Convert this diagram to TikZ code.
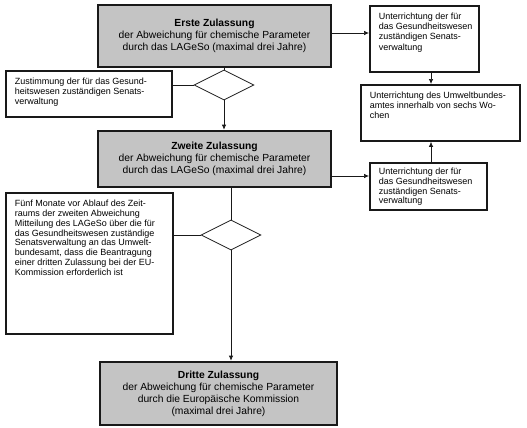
\documentclass[tikz,border=0pt]{standalone}
\usepackage{fontspec}
\setmainfont{Liberation Sans}
\usetikzlibrary{arrows.meta,shapes.geometric}
\newcommand\boxtxt[5][6.5pt]{\parbox[c][#3][t]{#2}{\fontsize{9}{10.2}\selectfont\renewcommand\arraystretch{#4}\parindent=0pt\vspace*{#1}\hspace*{9pt}\begin{tabular}[t]{@{}l@{}}#5\end{tabular}\par}}
\tikzset{
  mainbox/.style={draw=black!90, line width=2.6pt, fill=black!23, inner sep=0pt, align=center,
    font=\fontsize{10.3}{12}\selectfont},
  smallbox/.style={draw=black!90, line width=1.8pt, fill=white, inner sep=0pt, anchor=north west},
  decision/.style={diamond, draw=black!90, line width=0.8pt, minimum width=60pt, minimum height=30pt, inner sep=0pt},
  conn/.style={draw=black!90, line width=0.7pt},
  arr/.style={conn, -{Latex[length=5pt,width=4.5pt]}},
}
\begin{document}
\begin{tikzpicture}[x=1pt,y=1pt]
\useasboundingbox (0,0) rectangle (527,-428);
% main boxes
\node[mainbox, minimum width=233, minimum height=62] (e1) at (214.5,-36)
  {\textbf{Erste Zulassung}\\der Abweichung für chemische Parameter\\durch das LAGeSo (maximal drei Jahre)};
\node[mainbox, minimum width=233, minimum height=56] (z2) at (214.5,-159)
  {\textbf{Zweite Zulassung}\\der Abweichung für chemische Parameter\\durch das LAGeSo (maximal drei Jahre)};
\node[mainbox, minimum width=237, minimum height=63] (d3) at (218.5,-393.5)
  {\textbf{Dritte Zulassung}\\der Abweichung für chemische Parameter\\durch die Europäische Kommission\\(maximal drei Jahre)};
% small boxes
\node[smallbox] (bA) at (369,-5) {\boxtxt{109pt}{66pt}{1}{Unterrichtung der für\\das Gesundheitswesen\\zuständigen Senats-\\verwaltung}};
\node[smallbox] (um) at (360,-84) {\boxtxt{159pt}{56pt}{1}{Unterrichtung des Umweltbundes-\\amtes innerhalb von sechs Wo-\\chen}};
\node[smallbox] (bB) at (369,-162) {\boxtxt[5pt]{117pt}{47pt}{0.95}{Unterrichtung der für\\das Gesundheitswesen\\zuständigen Senats-\\verwaltung}};
\node[smallbox] (zu) at (5,-70) {\boxtxt{166pt}{46pt}{1}{Zustimmung der für das Gesund-\\heitswesen zuständigen Senats-\\verwaltung}};
\node[smallbox] (f5) at (5,-192) {\boxtxt{167pt}{141pt}{0.97}{Fünf Monate vor Ablauf des Zeit-\\raums der zweiten Abweichung\\Mitteilung des LAGeSo über die für\\das Gesundheitswesen zuständige\\Senatsverwaltung an das Umwelt-\\bundesamt, dass die Beantragung\\einer dritten Zulassung bei der EU-\\Kommission erforderlich ist}};
% decisions
\node[decision] (k1) at (224,-85) {};
\node[decision] (k2) at (231,-235) {};
% helper coordinates
\coordinate (xa) at (431,0);
\coordinate (yb) at (0,-176);
% connectors
\draw[conn] (k1.north) -- (k1.north |- e1.south);
\draw[arr] (k1.south) -- (k1.south |- z2.north);
\draw[conn] (k1.west) -- (k1.west -| zu.east);
\draw[conn] (k2.north) -- (k2.north |- z2.south);
\draw[arr] (k2.south) -- (k2.south |- d3.north);
\draw[conn] (k2.west) -- (k2.west -| f5.east);
\draw[arr] (e1.east |- 0,-33) -- (bA.west |- 0,-33);
\draw[arr] (bA.south -| xa) -- (um.north -| xa);
\draw[arr] (z2.east |- yb) -- (bB.west |- yb);
\draw[arr] (bB.north -| xa) -- (um.south -| xa);
\end{tikzpicture}
\end{document}
